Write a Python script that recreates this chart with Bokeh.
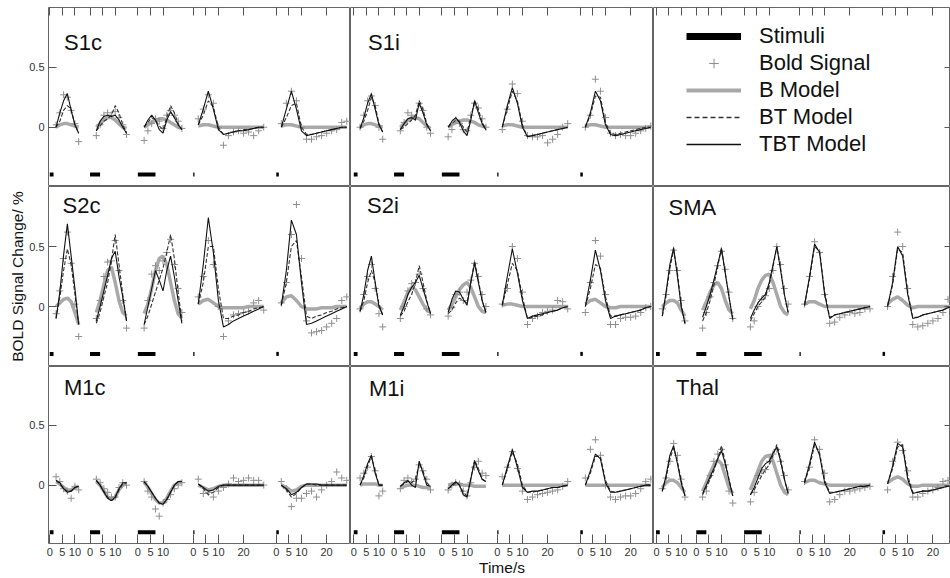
from bokeh.plotting import figure
from bokeh.layouts import gridplot
from bokeh.models import (Range1d, LinearAxis, FixedTicker, Label, Legend, LegendItem,
                          ColumnDataSource, AllLabels, Grid)
from bokeh.transform import dodge
from bokeh.embed import file_html
from bokeh.resources import INLINE

# ---------------- data ----------------
# sample times (s) inside each of the five trial types
T1 = [2.5, 4, 5.5, 7, 8.5, 10, 11.5]
T2 = [2.5, 4, 5.5, 7, 8.5, 10, 11.5, 13, 14.5]
T3 = [2.5, 4, 5.5, 7, 8.5, 10, 11.5, 13, 14.5, 16, 17.5]
T4 = [2, 4, 6, 8, 10, 12, 14, 16, 18, 20, 22, 24, 26, 28]
T5 = [2, 4, 6, 8, 10, 12, 14, 16, 18, 20, 22, 24, 26, 28]
TIMES = [T1, T2, T3, T4, T5]
STIM_DUR = [1.5, 4, 7, 0.5, 1]          # stimulus durations (s)
STIM_LEVEL = -0.395
SEG_TICKS = [[0, 5, 10], [0, 5, 10], [0, 5, 10], [0, 5, 10, 20], [0, 5, 10, 20]]
Y_TICKS = [0, 0.5]
Y_LABELS = ["0", "0.5"]
Z14 = [0.0] * 14

S1c_bold = [[0.02, 0.12, 0.27, 0.25, 0.14, 0.03, -0.12],
            [-0.07, 0.02, 0.10, 0.12, 0.10, 0.13, 0.08, 0.02, -0.06],
            [-0.11, -0.03, 0.03, 0.07, 0.05, -0.01, 0.10, 0.14, 0.10, 0.05, -0.01],
            [0.07, 0.15, 0.27, 0.20, 0.00, -0.15, -0.07, -0.04, -0.03, -0.05, -0.04, -0.07, -0.03, 0.00],
            [0.03, 0.20, 0.30, 0.22, 0.00, -0.10, -0.10, -0.08, -0.07, -0.05, -0.03, -0.02, 0.04, 0.05]]
S1c_B = [[0.00, 0.02, 0.03, 0.03, 0.02, 0.01, 0.00],
         [0.00, 0.03, 0.06, 0.08, 0.08, 0.06, 0.03, 0.00, -0.01],
         [0.00, 0.02, 0.04, 0.06, 0.07, 0.07, 0.06, 0.04, 0.02, 0.00, -0.01],
         [0.01, 0.02, 0.02, 0.01, 0, 0, 0, 0, 0, 0, 0, 0, 0, 0],
         [0.01, 0.02, 0.02, 0.01, 0, 0, 0, 0, 0, 0, 0, 0, 0, 0]]
S1c_BT = [[0.00, 0.05, 0.14, 0.18, 0.15, 0.02, -0.05],
          [-0.03, 0.01, 0.05, 0.07, 0.10, 0.18, 0.12, 0.02, -0.05],
          [0.00, 0.04, 0.08, 0.06, 0.01, -0.02, 0.08, 0.18, 0.12, 0.03, -0.02],
          [0.02, 0.10, 0.22, 0.17, 0.00, -0.06, -0.05, -0.04, -0.03, -0.02, -0.02, -0.01, 0.00, 0.00],
          [0.00, 0.08, 0.18, 0.20, 0.00, -0.06, -0.06, -0.05, -0.04, -0.03, -0.02, -0.01, 0.00, 0.00]]
S1c_TBT = [[0.00, 0.12, 0.22, 0.28, 0.14, 0.02, -0.05],
           [-0.03, 0.05, 0.09, 0.10, 0.09, 0.10, 0.06, 0.00, -0.05],
           [0.00, 0.06, 0.10, 0.06, -0.02, -0.05, 0.06, 0.13, 0.08, 0.02, -0.02],
           [0.02, 0.15, 0.30, 0.15, -0.02, -0.06, -0.05, -0.04, -0.03, -0.03, -0.02, -0.01, 0.00, 0.00],
           [0.00, 0.15, 0.30, 0.15, -0.03, -0.07, -0.06, -0.05, -0.04, -0.03, -0.02, -0.01, 0.00, 0.00]]

S1i_bold = [[0.00, 0.10, 0.22, 0.26, 0.18, 0.00, -0.10],
            [-0.03, 0.04, 0.12, 0.10, 0.08, 0.20, 0.14, 0.00, -0.05],
            [-0.08, -0.02, 0.06, 0.03, -0.02, -0.03, 0.10, 0.20, 0.16, 0.07, 0.00],
            [-0.02, 0.15, 0.36, 0.28, 0.05, -0.07, -0.08, -0.08, -0.07, -0.13, -0.10, -0.06, 0.00, 0.03],
            [0.00, 0.10, 0.40, 0.30, 0.08, -0.05, -0.07, -0.06, -0.07, -0.07, -0.05, -0.03, -0.01, 0.01]]
S1i_B = [[0.00, 0.02, 0.03, 0.03, 0.02, 0.01, 0.00],
         [0.00, 0.03, 0.06, 0.08, 0.08, 0.07, 0.04, 0.01, -0.01],
         [0.00, 0.02, 0.04, 0.05, 0.06, 0.06, 0.05, 0.04, 0.02, 0.01, 0.00],
         [0.01, 0.02, 0.02, 0.01, 0, 0, 0, 0, 0, 0, 0, 0, 0, 0],
         [0.01, 0.02, 0.02, 0.01, 0, 0, 0, 0, 0, 0, 0, 0, 0, 0]]
S1i_BT = [[-0.01, 0.05, 0.14, 0.25, 0.18, 0.03, -0.04],
          [-0.02, 0.00, 0.03, 0.06, 0.10, 0.22, 0.15, 0.03, -0.03],
          [0.00, 0.03, 0.06, 0.05, 0.00, -0.04, 0.08, 0.22, 0.15, 0.04, -0.02],
          [0.00, 0.15, 0.30, 0.22, 0.02, -0.08, -0.07, -0.06, -0.05, -0.04, -0.03, -0.02, -0.01, 0.00],
          [0.00, 0.10, 0.26, 0.25, 0.04, -0.05, -0.06, -0.05, -0.04, -0.03, -0.02, -0.01, 0.00, 0.00]]
S1i_TBT = [[-0.01, 0.08, 0.20, 0.28, 0.15, 0.02, -0.04],
           [-0.02, 0.03, 0.07, 0.08, 0.06, 0.20, 0.12, 0.02, -0.03],
           [0.00, 0.05, 0.08, 0.04, -0.03, -0.07, 0.06, 0.22, 0.12, 0.03, -0.02],
           [0.00, 0.18, 0.33, 0.20, 0.00, -0.08, -0.07, -0.06, -0.05, -0.04, -0.03, -0.02, -0.01, 0.00],
           [0.00, 0.12, 0.30, 0.22, 0.02, -0.06, -0.07, -0.06, -0.05, -0.04, -0.03, -0.02, -0.01, 0.00]]

S2c_bold = [[-0.06, 0.13, 0.40, 0.62, 0.36, 0.02, -0.25],
            [-0.10, 0.05, 0.25, 0.37, 0.38, 0.55, 0.30, 0.05, -0.18],
            [-0.18, 0.05, 0.27, 0.34, 0.30, 0.38, 0.45, 0.56, 0.35, 0.15, -0.05],
            [0.08, 0.25, 0.55, 0.35, 0.00, -0.25, -0.12, -0.07, -0.06, -0.05, -0.04, 0.03, 0.05, -0.03],
            [0.03, 0.20, 0.60, 0.85, 0.40, -0.12, -0.22, -0.21, -0.20, -0.17, -0.14, -0.10, 0.05, 0.08]]
S2c_B = [[0.00, 0.03, 0.06, 0.07, 0.04, -0.05, -0.15],
         [-0.05, 0.05, 0.18, 0.30, 0.33, 0.20, 0.05, -0.05, -0.08],
         [-0.06, 0.02, 0.15, 0.30, 0.40, 0.42, 0.35, 0.20, 0.05, -0.06, -0.10],
         [0.02, 0.05, 0.06, 0.03, 0.00, -0.01, -0.01, -0.01, -0.01, -0.01, 0.00, 0.00, 0.00, 0.00],
         [0.03, 0.08, 0.09, 0.05, 0.00, -0.02, -0.02, -0.02, -0.01, -0.01, -0.01, 0.00, 0.00, 0.00]]
S2c_BT = [[-0.10, 0.08, 0.30, 0.48, 0.35, 0.10, -0.15],
          [-0.14, -0.05, 0.08, 0.20, 0.38, 0.60, 0.35, 0.10, -0.12],
          [-0.15, -0.08, 0.02, 0.12, 0.22, 0.32, 0.45, 0.60, 0.40, 0.12, -0.12],
          [0.02, 0.20, 0.50, 0.50, 0.15, -0.10, -0.10, -0.08, -0.07, -0.05, -0.04, -0.02, -0.01, 0.00],
          [0.01, 0.20, 0.50, 0.55, 0.25, -0.08, -0.10, -0.08, -0.07, -0.05, -0.04, -0.02, -0.01, 0.00]]
S2c_TBT = [[-0.10, 0.12, 0.43, 0.69, 0.42, 0.15, -0.15],
           [-0.12, 0.00, 0.13, 0.26, 0.40, 0.46, 0.25, 0.08, -0.12],
           [-0.15, 0.00, 0.15, 0.30, 0.22, 0.13, 0.30, 0.42, 0.25, 0.05, -0.14],
           [0.02, 0.35, 0.74, 0.45, 0.05, -0.17, -0.15, -0.12, -0.10, -0.08, -0.06, -0.04, -0.02, 0.00],
           [0.01, 0.30, 0.72, 0.60, 0.20, -0.15, -0.14, -0.12, -0.10, -0.08, -0.06, -0.04, -0.02, 0.00]]

S2i_bold = [[-0.02, 0.10, 0.25, 0.35, 0.15, -0.06, -0.17],
            [-0.10, 0.00, 0.13, 0.19, 0.20, 0.27, 0.15, -0.02, -0.07],
            [-0.08, -0.01, 0.10, 0.12, 0.05, 0.12, 0.22, 0.36, 0.25, 0.10, 0.00],
            [0.02, 0.15, 0.50, 0.40, 0.12, -0.15, -0.10, -0.08, -0.05, -0.04, -0.03, 0.05, 0.04, -0.02],
            [-0.05, 0.20, 0.55, 0.42, 0.10, -0.15, -0.15, -0.10, -0.09, -0.09, -0.08, -0.05, -0.01, 0.00]]
S2i_B = [[-0.02, 0.02, 0.04, 0.04, 0.02, 0.00, -0.03],
         [-0.03, 0.04, 0.12, 0.16, 0.14, 0.08, 0.02, -0.03, -0.05],
         [-0.03, 0.02, 0.08, 0.14, 0.18, 0.20, 0.16, 0.08, 0.00, -0.04, -0.05],
         [0.01, 0.02, 0.02, 0.01, 0, 0, 0, 0, 0, 0, 0, 0, 0, 0],
         [0.02, 0.05, 0.06, 0.03, 0.00, -0.01, -0.01, 0, 0, 0, 0, 0, 0, 0]]
S2i_BT = [[-0.04, 0.05, 0.20, 0.30, 0.20, 0.02, -0.07],
          [-0.08, -0.04, 0.04, 0.10, 0.20, 0.34, 0.20, 0.05, -0.06],
          [-0.06, -0.03, 0.03, 0.07, 0.05, 0.03, 0.20, 0.38, 0.22, 0.05, -0.05],
          [0.01, 0.18, 0.36, 0.30, 0.08, -0.10, -0.09, -0.08, -0.07, -0.05, -0.04, -0.03, -0.01, 0.00],
          [0.00, 0.15, 0.35, 0.32, 0.08, -0.08, -0.08, -0.07, -0.06, -0.05, -0.04, -0.03, -0.01, 0.00]]
S2i_TBT = [[-0.04, 0.10, 0.30, 0.42, 0.20, 0.00, -0.07],
           [-0.07, 0.00, 0.10, 0.16, 0.20, 0.26, 0.15, 0.04, -0.06],
           [-0.05, 0.06, 0.13, 0.12, 0.06, 0.01, 0.20, 0.36, 0.20, 0.05, -0.05],
           [0.01, 0.25, 0.48, 0.28, 0.05, -0.10, -0.08, -0.07, -0.06, -0.05, -0.04, -0.03, -0.01, 0.00],
           [0.00, 0.22, 0.47, 0.30, 0.05, -0.10, -0.08, -0.07, -0.06, -0.05, -0.04, -0.03, -0.01, 0.00]]

SMA_bold = [[-0.02, 0.10, 0.30, 0.47, 0.30, 0.05, -0.12],
            [-0.18, -0.05, 0.08, 0.20, 0.34, 0.46, 0.31, 0.12, -0.10],
            [-0.17, -0.12, 0.00, 0.06, 0.09, 0.15, 0.30, 0.50, 0.35, 0.15, 0.02],
            [0.02, 0.25, 0.54, 0.45, 0.10, -0.14, -0.13, -0.09, -0.07, -0.05, -0.06, -0.05, -0.02, -0.02],
            [0.00, 0.25, 0.62, 0.50, 0.15, -0.15, -0.17, -0.16, -0.14, -0.12, -0.10, -0.05, 0.06, 0.04]]
SMA_B = [[0.00, 0.03, 0.05, 0.05, 0.03, -0.03, -0.08],
         [-0.03, 0.04, 0.12, 0.18, 0.20, 0.15, 0.05, -0.03, -0.06],
         [-0.02, 0.05, 0.15, 0.22, 0.26, 0.27, 0.20, 0.10, 0.00, -0.05, -0.07],
         [0.02, 0.04, 0.04, 0.02, 0, 0, 0, 0, 0, 0, 0, 0, 0, 0],
         [0.02, 0.06, 0.08, 0.05, 0.01, -0.01, 0, 0, 0, 0, 0, 0, 0, 0]]
SMA_BT = [[-0.08, 0.10, 0.32, 0.47, 0.28, 0.02, -0.14],
          [-0.12, -0.05, 0.05, 0.18, 0.33, 0.49, 0.28, 0.08, -0.11],
          [-0.12, -0.06, 0.00, 0.04, 0.08, 0.18, 0.33, 0.50, 0.32, 0.10, -0.05],
          [0.01, 0.23, 0.50, 0.46, 0.12, -0.09, -0.07, -0.06, -0.05, -0.04, -0.03, -0.02, -0.01, 0.00],
          [0.00, 0.18, 0.48, 0.45, 0.12, -0.09, -0.09, -0.07, -0.06, -0.05, -0.04, -0.03, -0.01, 0.00]]
SMA_TBT = [[-0.08, 0.12, 0.35, 0.49, 0.25, 0.00, -0.14],
           [-0.09, 0.00, 0.10, 0.22, 0.35, 0.48, 0.28, 0.08, -0.11],
           [-0.10, -0.03, 0.03, 0.07, 0.10, 0.20, 0.35, 0.50, 0.30, 0.10, -0.05],
           [0.01, 0.25, 0.52, 0.45, 0.10, -0.10, -0.07, -0.06, -0.05, -0.04, -0.03, -0.02, -0.01, 0.00],
           [0.00, 0.20, 0.50, 0.42, 0.10, -0.10, -0.09, -0.07, -0.06, -0.05, -0.04, -0.03, -0.01, 0.00]]

M1c_bold = [[0.07, 0.03, -0.03, -0.05, -0.11, -0.01, -0.04],
            [0.05, 0.02, -0.03, -0.06, -0.10, -0.10, -0.02, 0.02, 0.00],
            [0.03, -0.05, -0.10, -0.20, -0.26, -0.15, -0.12, -0.08, -0.03, 0.00, 0.02],
            [0.05, -0.07, -0.06, -0.10, -0.05, -0.02, 0.01, 0.06, 0.03, 0.04, 0.06, 0.04, 0.04, 0.00],
            [0.03, -0.03, -0.18, -0.11, -0.11, -0.07, -0.05, -0.10, -0.04, 0.00, 0.03, 0.11, 0.06, 0.04]]
M1c_B = [[0.03, 0.01, -0.02, -0.04, -0.04, -0.02, -0.01],
         [0.03, 0.00, -0.05, -0.10, -0.12, -0.10, -0.04, 0.00, 0.01],
         [0.03, -0.02, -0.07, -0.12, -0.15, -0.15, -0.11, -0.05, 0.00, 0.02, 0.03],
         [0.00, -0.02, -0.04, -0.03, -0.01, 0, 0, 0, 0, 0, 0, 0, 0, 0],
         [0.00, -0.02, -0.05, -0.04, -0.01, 0, 0, 0, 0, 0, 0, 0, 0, 0]]
M1c_BT = [[0.04, 0.01, -0.03, -0.05, -0.05, -0.02, -0.01],
          [0.04, 0.00, -0.05, -0.10, -0.13, -0.11, -0.04, 0.01, 0.02],
          [0.03, -0.01, -0.06, -0.11, -0.15, -0.16, -0.12, -0.06, 0.00, 0.03, 0.03],
          [0.01, -0.03, -0.08, -0.06, -0.02, 0, 0, 0, 0, 0, 0, 0, 0, 0],
          [0.00, -0.04, -0.10, -0.07, -0.02, 0.01, 0.01, 0, 0, 0, 0, 0, 0, 0]]
M1c_TBT = [[0.04, 0.02, -0.03, -0.06, -0.05, -0.02, -0.01],
           [0.04, 0.00, -0.06, -0.11, -0.13, -0.10, -0.03, 0.02, 0.02],
           [0.03, -0.01, -0.06, -0.11, -0.15, -0.16, -0.12, -0.06, 0.00, 0.03, 0.03],
           [0.01, -0.02, -0.05, -0.04, -0.01, 0, 0, 0, 0, 0, 0, 0, 0, 0],
           [0.00, -0.03, -0.08, -0.06, -0.02, 0.01, 0.01, 0.01, 0, 0, 0, 0, 0, 0]]

M1i_bold = [[0.06, 0.10, 0.15, 0.24, 0.12, -0.09, -0.05],
            [-0.03, 0.04, 0.06, 0.03, 0.05, 0.17, 0.12, 0.05, -0.04],
            [-0.04, 0.00, 0.02, 0.01, -0.05, -0.09, 0.02, 0.15, 0.20, 0.10, 0.08],
            [0.07, 0.15, 0.28, 0.14, -0.05, -0.12, -0.10, -0.08, -0.07, -0.06, -0.05, -0.04, -0.01, 0.03],
            [0.06, 0.30, 0.38, 0.25, 0.00, -0.10, -0.12, -0.10, -0.09, -0.09, -0.07, -0.03, 0.03, 0.05]]
M1i_B = [[0.00, 0.01, 0.01, 0.01, 0.01, 0.00, 0.00],
         [-0.02, -0.01, 0.00, 0.00, 0.00, -0.01, -0.02, -0.02, -0.02],
         [0.00, 0.01, 0.01, 0.01, 0.00, 0.00, 0.00, -0.01, -0.01, -0.01, -0.01],
         Z14,
         Z14]
M1i_BT = [[0.00, 0.06, 0.16, 0.24, 0.12, 0.00, 0.00],
          [-0.01, 0.01, 0.03, 0.02, 0.05, 0.18, 0.12, 0.02, -0.01],
          [-0.03, -0.01, 0.02, 0.00, -0.06, -0.09, 0.06, 0.21, 0.14, 0.05, 0.03],
          [0.00, 0.13, 0.28, 0.18, 0.00, -0.06, -0.06, -0.05, -0.04, -0.03, -0.02, -0.02, -0.01, 0.00],
          [0.00, 0.10, 0.24, 0.24, 0.04, -0.05, -0.06, -0.05, -0.04, -0.03, -0.02, -0.01, 0.00, 0.00]]
M1i_TBT = [[0.00, 0.08, 0.18, 0.25, 0.10, 0.00, 0.00],
           [-0.01, 0.02, 0.04, 0.00, -0.02, 0.20, 0.10, 0.00, -0.01],
           [-0.03, 0.00, 0.03, 0.00, -0.08, -0.10, 0.05, 0.20, 0.12, 0.05, 0.03],
           [0.00, 0.15, 0.30, 0.15, -0.02, -0.06, -0.05, -0.05, -0.04, -0.03, -0.02, -0.02, -0.01, 0.00],
           [0.00, 0.12, 0.26, 0.22, 0.02, -0.06, -0.06, -0.05, -0.04, -0.03, -0.02, -0.01, 0.00, 0.00]]

Thal_bold = [[-0.03, 0.06, 0.20, 0.35, 0.25, 0.05, -0.10],
             [-0.10, -0.05, 0.08, 0.20, 0.26, 0.30, 0.17, -0.05, -0.15],
             [-0.14, -0.06, 0.08, 0.12, 0.13, 0.20, 0.26, 0.30, 0.20, 0.08, -0.04],
             [0.03, 0.15, 0.38, 0.30, 0.10, -0.14, -0.12, -0.08, -0.05, -0.05, -0.04, -0.03, -0.02, -0.01],
             [-0.04, 0.20, 0.36, 0.29, 0.12, -0.10, -0.10, -0.07, -0.05, -0.04, -0.02, 0.03, 0.04, 0.07]]
Thal_B = [[-0.02, 0.02, 0.04, 0.04, 0.02, -0.02, -0.06],
          [-0.05, 0.02, 0.10, 0.17, 0.21, 0.18, 0.08, -0.02, -0.07],
          [-0.04, 0.04, 0.12, 0.20, 0.24, 0.25, 0.20, 0.10, 0.00, -0.06, -0.08],
          [0.02, 0.04, 0.04, 0.02, 0.01, 0, 0, 0, 0, 0, 0, 0, 0, 0],
          [0.02, 0.05, 0.07, 0.05, 0.01, -0.01, -0.01, 0, 0, 0, 0, 0, 0, 0]]
Thal_BT = [[-0.05, 0.06, 0.22, 0.31, 0.20, 0.04, -0.09],
           [-0.08, -0.02, 0.05, 0.12, 0.22, 0.33, 0.20, 0.05, -0.09],
           [-0.08, -0.04, 0.02, 0.08, 0.13, 0.17, 0.25, 0.34, 0.22, 0.05, -0.07],
           [0.02, 0.15, 0.34, 0.27, 0.04, -0.06, -0.06, -0.05, -0.04, -0.03, -0.02, -0.01, -0.01, 0.00],
           [0.01, 0.14, 0.32, 0.34, 0.08, -0.06, -0.06, -0.05, -0.05, -0.04, -0.03, -0.02, -0.01, 0.00]]
Thal_TBT = [[-0.05, 0.08, 0.25, 0.33, 0.18, 0.02, -0.09],
            [-0.07, 0.00, 0.07, 0.14, 0.22, 0.29, 0.18, 0.04, -0.09],
            [-0.08, -0.02, 0.06, 0.14, 0.18, 0.20, 0.27, 0.32, 0.20, 0.05, -0.07],
            [0.02, 0.18, 0.36, 0.25, 0.02, -0.07, -0.06, -0.05, -0.04, -0.03, -0.02, -0.01, -0.01, 0.00],
            [0.01, 0.16, 0.35, 0.32, 0.05, -0.07, -0.06, -0.05, -0.05, -0.04, -0.03, -0.02, -0.01, 0.00]]

REGIONS = {
    "S1c": (S1c_bold, S1c_B, S1c_BT, S1c_TBT),
    "S1i": (S1i_bold, S1i_B, S1i_BT, S1i_TBT),
    "S2c": (S2c_bold, S2c_B, S2c_BT, S2c_TBT),
    "S2i": (S2i_bold, S2i_B, S2i_BT, S2i_TBT),
    "SMA": (SMA_bold, SMA_B, SMA_BT, SMA_TBT),
    "M1c": (M1c_bold, M1c_B, M1c_BT, M1c_TBT),
    "M1i": (M1i_bold, M1i_B, M1i_BT, M1i_TBT),
    "Thal": (Thal_bold, Thal_B, Thal_BT, Thal_TBT),
}
GRID = [["S1c", "S1i", None], ["S2c", "S2i", "SMA"], ["M1c", "M1i", "Thal"]]
LEGEND_LABELS = ["Stimuli", "Bold Signal", "B Model", "BT Model", "TBT Model"]

# ---------------- layout / style ----------------
SEG_START = [0, 16, 35, 57, 90]           # where each trial's own time axis starts inside a panel (s)
COL_W = [350, 303, 297]
ROW_H = [186, 180, 212]
LEFT_PAD = 48
TOP_PAD = 7
BOTTOM_PAD = 34
PX_PER_S = 2.517
X_START = [-0.5, -1.3, -1.0]
Y_RANGES = [(-0.494, 0.9975), (-0.5, 1.0), (-0.489, 0.994)]
TITLE_POS = {"S1c": (15.5, 144), "S1i": (17.5, 144), "S2c": (14, 161.5), "S2i": (16.5, 161),
             "SMA": (15, 159), "M1c": (15.5, 156), "M1i": (18.5, 155.5), "Thal": (22.5, 156.5)}
FONT = "Liberation Sans"
C_BOLD = "#8f8f8f"
C_B = "#a9a9a9"
C_BT = "#333333"
C_TBT = "#111111"
C_FRAME = "#666666"
C_TICK = "#555555"

xticks = [SEG_START[s] + tk for s in range(5) for tk in SEG_TICKS[s]]
xlabels = {SEG_START[s] + tk: str(tk) for s in range(5) for tk in SEG_TICKS[s]}


def axis_common(ax, tick_in):
    ax.axis_line_color = None
    ax.major_tick_in = tick_in
    ax.major_tick_out = 0
    ax.major_tick_line_color = C_TICK
    ax.minor_tick_line_color = None
    ax.major_label_policy = AllLabels()
    ax.major_label_text_font = FONT
    ax.major_label_text_font_size = "11px"
    ax.major_label_text_color = "#333333"
    ax.axis_label_text_font = FONT
    ax.axis_label_text_font_style = "normal"
    ax.axis_label_text_font_size = "15.5px"
    ax.axis_label_text_color = "#111111"


def tick_only(ax):
    # inward ticks with no labels drawn
    ax.major_label_text_font_size = "1px"
    ax.major_label_text_color = None
    ax.major_label_standoff = 0


rows = []
for r in range(3):
    row = []
    for c in range(3):
        fw = COL_W[c] - (LEFT_PAD if c == 0 else 0)
        x_end = X_START[c] + fw / PX_PER_S
        y0, y1 = Y_RANGES[r]
        p = figure(width=COL_W[c], height=ROW_H[r], output_backend="svg", toolbar_location=None,
                   x_range=Range1d(X_START[c], x_end), y_range=Range1d(y0, y1),
                   x_axis_location=None, y_axis_location=None,
                   min_border_left=LEFT_PAD if c == 0 else 0, min_border_right=0,
                   min_border_top=TOP_PAD if r == 0 else 0,
                   min_border_bottom=BOTTOM_PAD if r == 2 else 0,
                   outline_line_color=C_FRAME, outline_line_width=1,
                   background_fill_color="white", border_fill_color="white")
        for g in list(p.center):
            if isinstance(g, Grid):
                g.visible = False

        if c == 0:
            ax = LinearAxis(ticker=FixedTicker(ticks=Y_TICKS),
                            major_label_overrides=dict(zip(Y_TICKS, Y_LABELS)))
            axis_common(ax, 8)
            ax.major_label_standoff = 4
            if r == 1:
                ax.axis_label = "BOLD Signal Change/ %"
                ax.axis_label_standoff = 0
            p.add_layout(ax, "left")
        if r == 2:
            ax = LinearAxis(ticker=FixedTicker(ticks=xticks), major_label_overrides=xlabels)
            axis_common(ax, 9)
            ax.major_label_standoff = 4
            if c == 1:
                ax.axis_label = "Time/s"
                ax.axis_label_standoff = 0
            p.add_layout(ax, "below")
        if r == 0:
            ax = LinearAxis(ticker=FixedTicker(ticks=xticks))
            axis_common(ax, 8)
            tick_only(ax)
            p.add_layout(ax, "above")
        if c == 2:
            ax = LinearAxis(ticker=FixedTicker(ticks=Y_TICKS))
            axis_common(ax, 6)
            tick_only(ax)
            p.add_layout(ax, "right")

        name = GRID[r][c]
        if name is not None:
            bold, bm, btm, tbtm = REGIONS[name]
            for s in range(5):
                src = ColumnDataSource(dict(t=TIMES[s], bold=bold[s], b=bm[s], bt=btm[s], tbt=tbtm[s]))
                xs = dodge("t", SEG_START[s])
                p.line(x=xs, y="b", source=src, line_color=C_B, line_width=3.5)
                p.scatter(x=xs, y="bold", source=src, marker="cross", size=7,
                          line_color=C_BOLD, line_width=1)
                p.line(x=xs, y="bt", source=src, line_color=C_BT, line_width=1.1, line_dash="4 2")
                p.line(x=xs, y="tbt", source=src, line_color=C_TBT, line_width=1.1)
                st = ColumnDataSource(dict(t0=[0], t1=[STIM_DUR[s]], lv=[STIM_LEVEL]))
                p.segment(x0=dodge("t0", SEG_START[s]), x1=dodge("t1", SEG_START[s]),
                          y0="lv", y1="lv", source=st, line_color="black", line_width=4,
                          line_cap="butt")
            tx, ty = TITLE_POS[name]
            p.add_layout(Label(x=tx, y=ty, x_units="screen", y_units="screen", text=name,
                               text_font=FONT, text_font_size="22px", text_color="#111111",
                               text_baseline="alphabetic"))
        else:
            nan = float("nan")
            key = lambda: ColumnDataSource(dict(x=[nan], y=[nan]))
            r_st = p.line(x="x", y="y", source=key(), line_color="black", line_width=7, line_cap="butt")
            r_bo = p.scatter(x="x", y="y", source=key(), marker="cross", size=8,
                             line_color=C_BOLD, line_width=1)
            r_b = p.line(x="x", y="y", source=key(), line_color=C_B, line_width=4)
            r_bt = p.line(x="x", y="y", source=key(), line_color=C_BT, line_width=1.3, line_dash="5 3")
            r_tbt = p.line(x="x", y="y", source=key(), line_color=C_TBT, line_width=1.3)
            rs = [r_st, r_bo, r_b, r_bt, r_tbt]
            leg = Legend(items=[LegendItem(label=lab, renderers=[rr]) for lab, rr in zip(LEGEND_LABELS, rs)],
                         location=(33, 29), border_line_color=None, background_fill_alpha=0,
                         padding=0, margin=0, spacing=1, glyph_width=55, glyph_height=24,
                         label_height=24, label_standoff=18, label_text_font=FONT,
                         label_text_font_size="22px", label_text_color="#111111")
            p.add_layout(leg)
        row.append(p)
    rows.append(row)

grid = gridplot(rows, toolbar_location=None)
open("out.html", "w").write(file_html(grid, INLINE))
